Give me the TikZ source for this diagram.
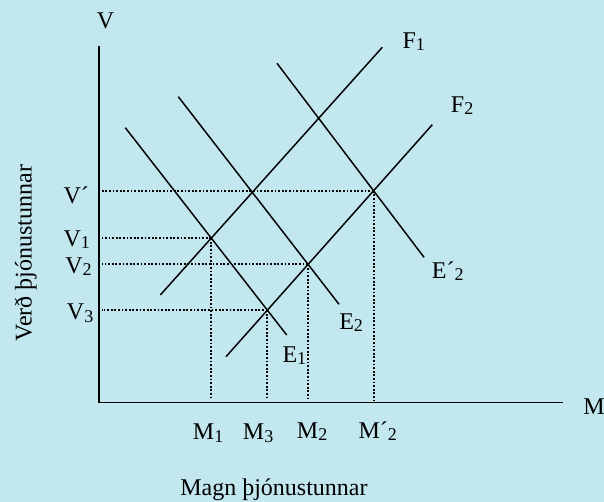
\documentclass[tikz,border=0pt]{standalone}
\usepackage{fontspec}
\setmainfont{Liberation Serif}
\usetikzlibrary{intersections}
\definecolor{panel}{RGB}{194,231,239}
\newcommand\sbs[1]{\raisebox{-1.7pt}{\fontsize{13.5}{14}\selectfont #1}}

\begin{document}
\begin{tikzpicture}[
  x=0.75pt, y=-0.75pt,
  curve/.style={line width=1.1pt},
  axis/.style={line width=1.2pt},
  guide/.style={line width=1.45pt, dash pattern=on 1.4pt off 1.3pt, shorten >=2pt},
  lbl/.style={anchor=base west, inner sep=0pt, font=\fontsize{18}{20}\selectfont}
]
\fill[panel] (0,0) rectangle (604,502);
\useasboundingbox (0,0) rectangle (604,502);

% axes
\coordinate (O) at (99,402.5);
\draw[axis] (99,46) -- (O) -- (563,402.5);

% supply curves
\draw[curve, name path=F1] (160.3,295) -- (382.3,47.3);
\draw[curve, name path=F2] (226,356.7) -- (432.3,124.7);
% demand curves
\draw[curve, name path=E1] (125.3,127.7) -- (286.7,335);
\draw[curve, name path=E2] (178.3,96.7) -- (339,304.3);
\draw[curve, name path=E2p] (277,63.3) -- (424,257.3);

% crossings
\path[name intersections={of=F1 and E1, by=c1}];
\path[name intersections={of=F2 and E1, by=c3}];
\path[name intersections={of=F2 and E2, by=c2}];
\path[name intersections={of=F2 and E2p, by=c2p}];

% dotted guides to the axes
\draw[guide] (c2p) -- (c2p -| O);
\draw[guide] (c1) -- (c1 -| O);
\draw[guide] (c2) -- (c2 -| O);
\draw[guide] (c3) -- (c3 -| O);
\draw[guide] (c1) -- (c1 |- O);
\draw[guide] (c3) -- (c3 |- O);
\draw[guide] (c2) -- (c2 |- O);
\draw[guide] (c2p) -- (c2p |- O);

% labels
\node[lbl] (vaxis) at (96.7,28.3) {V};
\node[lbl] (maxis) at (583,415) {M};
\node[lbl] (f1) at (402.3,48.3) {F\sbs{1}};
\node[lbl] (f2) at (450.7,112.3) {F\sbs{2}};
\node[lbl] (e1) at (282.3,362.7) {E\sbs{1}};
\node[lbl] (e2) at (339,329.3) {E\sbs{2}};
\node[lbl] (e2p) at (431.7,278.3) {E´\sbs{2}};
\node[lbl] (vp) at (63.3,203.3) {V´};
\node[lbl] (v1) at (63.3,246.7) {V\sbs{1}};
\node[lbl] (v2) at (65,273.3) {V\sbs{2}};
\node[lbl] (v3) at (66.7,320) {V\sbs{3}};
\node[lbl] (m1) at (192.7,440) {M\sbs{1}};
\node[lbl] (m3) at (242.7,440) {M\sbs{3}};
\node[lbl] (m2) at (296.7,438.3) {M\sbs{2}};
\node[lbl] (m2p) at (358.3,438.3) {M´\sbs{2}};
\node[lbl] (qty) at (180,495) {Magn þjónustunnar};
\node[lbl, rotate=90] (price) at (31.5,341.7) {Verð þjónustunnar};
\end{tikzpicture}
\end{document}
